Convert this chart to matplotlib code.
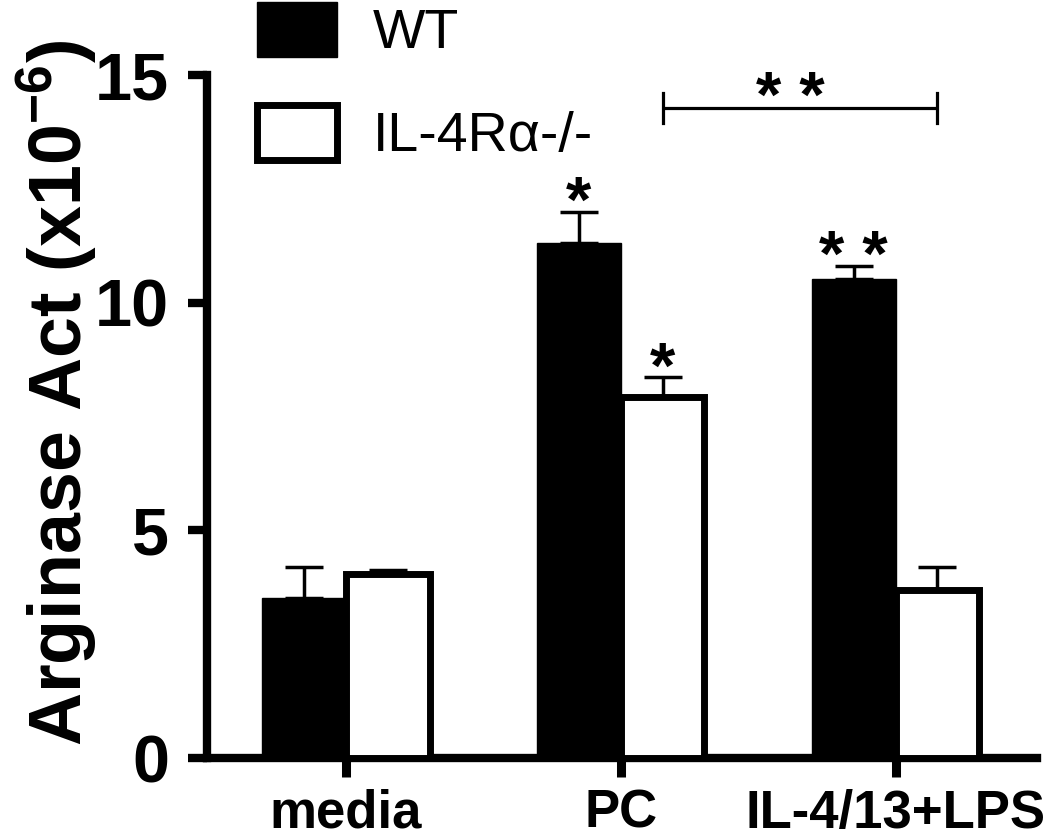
import numpy as np
import matplotlib
matplotlib.use("Agg")
import matplotlib.pyplot as plt

plt.rcParams["font.family"] = ["Liberation Sans", "DejaVu Sans"]
plt.rcParams["mathtext.fontset"] = "custom"
plt.rcParams["mathtext.rm"] = "Liberation Sans:bold"
plt.rcParams["mathtext.bf"] = "Liberation Sans:bold"

# data (arginase activity, x10^-6)
groups = ["media", "PC", "IL-4/13+LPS"]
wt_mean = [3.51, 11.32, 10.52]
wt_err = [0.68, 0.68, 0.29]
ko_mean = [4.05, 7.94, 3.69]
ko_err = [0.08, 0.42, 0.51]
wt_stars = ["", "*", "* *"]
ko_stars = ["", "*", ""]
bracket_y = 14.28
bracket_tick = [13.95, 14.60]
bracket_label = "* *"

x = np.arange(len(groups))
w = 0.305

fig = plt.figure(figsize=(10.5, 8.39), dpi=100)
ax = fig.add_axes([0.197, 0.0965, 0.791, 0.814])

ax.bar(x - w / 2, wt_mean, w, color="black", edgecolor="black", linewidth=1, label="WT", zorder=3)
ax.bar(x + w / 2, ko_mean, w, color="white", edgecolor="black", linewidth=5, label="IL-4R\u03b1-/-", zorder=3)

ax.errorbar(x - w / 2, wt_mean, yerr=[np.zeros(3), wt_err], fmt="none", ecolor="black",
            elinewidth=2.5, capsize=14, capthick=2.5, zorder=2)
ax.errorbar(x + w / 2, ko_mean, yerr=[np.zeros(3), ko_err], fmt="none", ecolor="black",
            elinewidth=2.5, capsize=14, capthick=2.5, zorder=2)

# significance stars
for i in range(len(groups)):
    if wt_stars[i]:
        ax.text(x[i] - w / 2, wt_mean[i] + wt_err[i] - 0.22, wt_stars[i], ha="center", va="baseline",
                fontsize=47, fontweight="bold")
    if ko_stars[i]:
        ax.text(x[i] + w / 2, ko_mean[i] + ko_err[i] - 0.22, ko_stars[i], ha="center", va="baseline",
                fontsize=47, fontweight="bold")

# bracket PC vs IL-4/13+LPS (knockout bars)
x0, x1 = x[1] + w / 2, x[2] + w / 2
ax.plot([x0, x1], [bracket_y, bracket_y], color="black", lw=2.3, solid_capstyle="butt", clip_on=False)
ax.plot([x0, x0], bracket_tick, color="black", lw=2.3, clip_on=False)
ax.plot([x1, x1], bracket_tick, color="black", lw=2.3, clip_on=False)
ax.text((x0 + x1) / 2 - 0.036, bracket_y - 0.2, bracket_label, ha="center", va="baseline",
        fontsize=47, fontweight="bold")

ax.set_xlim(-0.505, 2.516)
ax.set_ylim(0, 15)
ax.set_yticks([0, 5, 10, 15])
ax.set_xticks(x, groups)

for s in ["top", "right"]:
    ax.spines[s].set_visible(False)
for s in ["left", "bottom"]:
    ax.spines[s].set_linewidth(6)
    ax.spines[s].set_capstyle("projecting")

ax.tick_params(axis="y", length=14, width=6, pad=13, labelsize=48)
ax.tick_params(axis="x", length=14, width=6.5, pad=8, labelsize=38)
for lab in ax.get_yticklabels() + ax.get_xticklabels():
    lab.set_fontweight("bold")

ax.set_ylabel("Arginase Act (x10$^{\\mathdefault{-6}}$)", fontsize=53, fontweight="bold")
ax.yaxis.set_label_coords(-0.13, 0.535)

ax.legend(loc="upper left", bbox_to_anchor=(257 / 1050, 1 - 2 / 839), bbox_transform=fig.transFigure,
          frameon=False, fontsize=40, handlelength=1.44, handleheight=1.15,
          handletextpad=0.65, labelspacing=0.8, borderpad=0, borderaxespad=0)

fig.savefig("out.png", dpi=100)
